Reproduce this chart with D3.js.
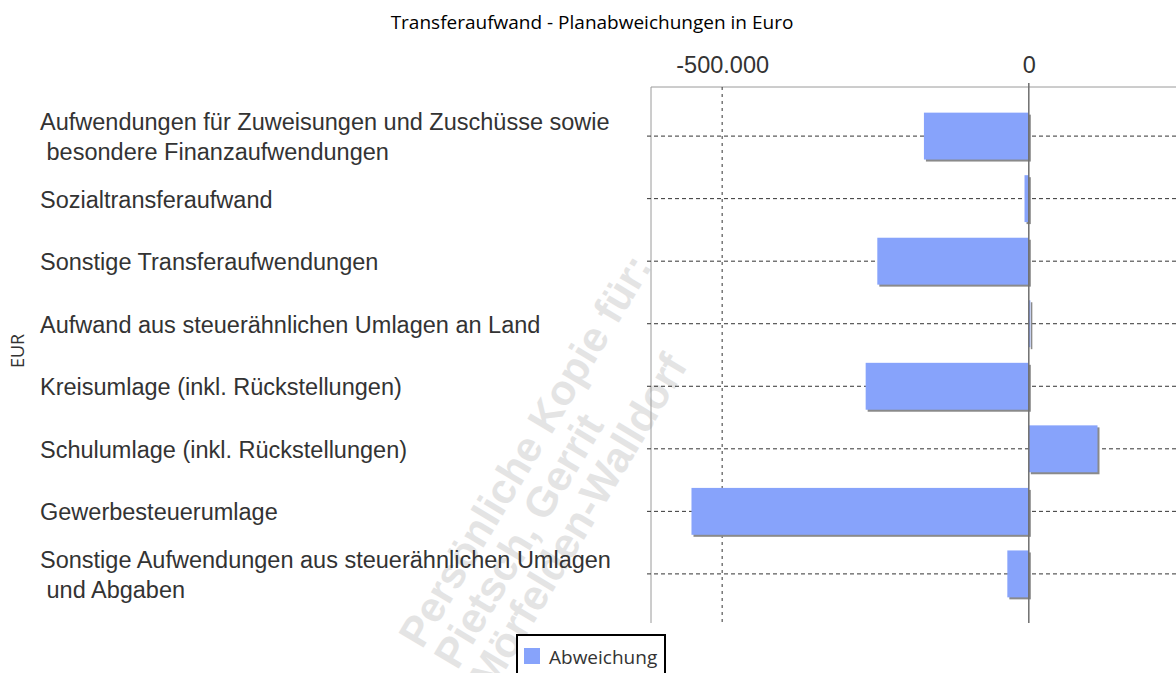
<!DOCTYPE html>
<html>
<head>
<meta charset="utf-8">
<script src="https://cdn.jsdelivr.net/npm/d3@7"></script>
<style>
  html, body { margin: 0; padding: 0; background: #fff; }
  svg { display: block; }
</style>
</head>
<body>
<div id="chart"></div>
<script>
// data
const categories = [
    'Aufwendungen für Zuweisungen und Zuschüsse sowie\n besondere Finanzaufwendungen',
    'Sozialtransferaufwand',
    'Sonstige Transferaufwendungen',
    'Aufwand aus steuerähnlichen Umlagen an Land',
    'Kreisumlage (inkl. Rückstellungen)',
    'Schulumlage (inkl. Rückstellungen)',
    'Gewerbesteuerumlage',
    'Sonstige Aufwendungen aus steuerähnlichen Umlagen\n und Abgaben'
]
const abweichung = [-171000, -7000, -247000, 2500, -266000, 112000, -550000, -35000]
const xTicks = [-500000, 0]
const seriesName = 'Abweichung'
const chartTitle = 'Transferaufwand - Planabweichungen in Euro'
const axisTitle = 'EUR'
const watermark = ['Persönliche Kopie für:', 'Pietsch, Gerrit', 'Mörfelden-Walldorf']

const width = 1176
const height = 673
const plot = { left: 651, top: 87, right: 1176, bottom: 623 }

const de = d3.formatLocale({ decimal: ',', thousands: '.', grouping: [3], currency: ['', ' €'], minus: '-' })
const fmt = de.format(',.0f')

const svg = d3.select('#chart')
    .append('svg')
    .attr('width', width)
    .attr('height', height)

const x = d3.scaleLinear()
    .domain([-616000, 240000])
    .range([plot.left, plot.right])

const y = d3.scaleBand()
    .domain(categories)
    .range([plot.top, plot.bottom])
    .paddingInner(0.25)
    .paddingOuter(0.41)

// watermark behind everything
svg.append('g')
    .attr('transform', 'translate(422,650) rotate(-59)')
    .selectAll('text')
    .data(watermark)
    .enter().append('text')
    .attr('x', 0)
    .attr('y', function(d, i) { return i * 41 })
    .attr('font-family', 'Liberation Sans, Arial, sans-serif')
    .attr('font-weight', 'bold')
    .attr('font-size', 42)
    .attr('fill', '#e4e4e4')
    .text(function(d) { return d })

// title
svg.append('text')
    .attr('x', 592)
    .attr('y', 29)
    .attr('text-anchor', 'middle')
    .attr('font-family', 'Open Sans, sans-serif')
    .attr('font-size', 19)
    .attr('fill', '#000')
    .text(chartTitle)

// frame: left and top border
svg.append('line')
    .attr('x1', plot.left).attr('x2', plot.left)
    .attr('y1', plot.top).attr('y2', plot.bottom)
    .attr('stroke', '#9a9a9a')
svg.append('line')
    .attr('x1', plot.left).attr('x2', plot.right)
    .attr('y1', plot.top).attr('y2', plot.top)
    .attr('stroke', '#9a9a9a')

// horizontal dashed grid at every category
svg.selectAll('.hgrid')
    .data(categories)
    .enter().append('line')
    .attr('class', 'hgrid')
    .attr('x1', plot.left - 4)
    .attr('x2', plot.right)
    .attr('y1', function(d) { return y(d) + y.bandwidth() / 2 })
    .attr('y2', function(d) { return y(d) + y.bandwidth() / 2 })
    .attr('stroke', '#333')
    .attr('stroke-dasharray', '4,3')

// vertical dashed grid (not at zero)
svg.selectAll('.vgrid')
    .data(xTicks.filter(function(t) { return t !== 0 }))
    .enter().append('line')
    .attr('class', 'vgrid')
    .attr('x1', function(d) { return x(d) })
    .attr('x2', function(d) { return x(d) })
    .attr('y1', plot.top)
    .attr('y2', plot.bottom)
    .attr('stroke', '#333')
    .attr('stroke-dasharray', '3,4')

// tick labels on top
const axis = svg.append('g')
    .attr('transform', `translate(0,${plot.top - 4})`)
    .call(d3.axisTop(x).tickValues(xTicks).tickFormat(fmt).tickSize(0).tickPadding(10))
axis.select('.domain').remove()
axis.selectAll('text')
    .attr('font-family', 'Liberation Sans, Arial, sans-serif')
    .attr('font-size', 23.5)
    .attr('fill', '#333')

// bar shadows
svg.selectAll('.shadow')
    .data(abweichung)
    .enter().append('rect')
    .attr('class', 'shadow')
    .attr('x', function(d) { return Math.min(x(d), x(0)) + 2 })
    .attr('y', function(d, i) { return y(categories[i]) + 2 })
    .attr('width', function(d) { return Math.abs(x(d) - x(0)) })
    .attr('height', y.bandwidth())
    .attr('fill', '#8a8a8a')

// bars
svg.selectAll('.bar')
    .data(abweichung)
    .enter().append('rect')
    .attr('class', 'bar')
    .attr('x', function(d) { return Math.min(x(d), x(0)) })
    .attr('y', function(d, i) { return y(categories[i]) })
    .attr('width', function(d) { return Math.abs(x(d) - x(0)) })
    .attr('height', y.bandwidth())
    .attr('fill', '#87a3fb')

// zero line
svg.append('line')
    .attr('x1', x(0)).attr('x2', x(0))
    .attr('y1', plot.top - 4).attr('y2', plot.bottom)
    .attr('stroke', '#6e6e6e')
    .attr('stroke-width', 1.5)

// category labels
const labels = svg.selectAll('.cat')
    .data(categories)
    .enter().append('text')
    .attr('class', 'cat')
    .attr('font-family', 'Liberation Sans, Arial, sans-serif')
    .attr('font-size', 23.5)
    .attr('fill', '#333')
    .style('white-space', 'pre')

labels.each(function(d) {
    let lines = d.split('\n')
    let cy = y(d) + y.bandwidth() / 2
    d3.select(this).selectAll('tspan')
        .data(lines)
        .enter().append('tspan')
        .attr('x', 40)
        .attr('y', function(l, i) { return cy + 9 + (i - (lines.length - 1) / 2) * 30 })
        .text(function(l) { return l })
})

// axis title
svg.append('text')
    .attr('transform', `translate(24,${(plot.top + plot.bottom) / 2 - 4}) rotate(-90)`)
    .attr('text-anchor', 'middle')
    .attr('font-family', 'Open Sans, sans-serif')
    .attr('font-size', 18)
    .attr('fill', '#333')
    .text(axisTitle)

// legend
svg.append('rect')
    .attr('x', 517)
    .attr('y', 635)
    .attr('width', 148)
    .attr('height', 60)
    .attr('fill', '#fff')
    .attr('stroke', '#000')
    .attr('stroke-width', 2)
svg.append('rect')
    .attr('x', 524)
    .attr('y', 648)
    .attr('width', 16)
    .attr('height', 16)
    .attr('fill', '#87a3fb')
svg.append('text')
    .attr('x', 549)
    .attr('y', 664)
    .attr('font-family', 'Open Sans, sans-serif')
    .attr('font-size', 19)
    .attr('fill', '#333')
    .text(seriesName)
</script>
</body>
</html>
